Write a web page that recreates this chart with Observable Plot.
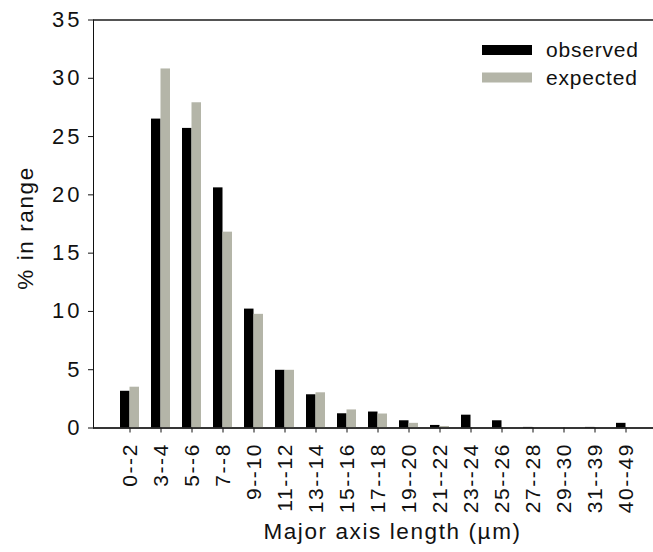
<!DOCTYPE html>
<html>
<head>
<meta charset="utf-8">
<script src="https://cdn.jsdelivr.net/npm/d3@7"></script>
<script src="https://cdn.jsdelivr.net/npm/@observablehq/plot@0.6"></script>
<style>
  html, body { margin: 0; padding: 0; background: #fff; }
</style>
</head>
<body>
<div id="chart"></div>
<script>
const categories = ["0--2","3--4","5--6","7--8","9--10","11--12","13--14","15--16","17--18","19--20","21--22","23--24","25--26","27--28","29--30","31--39","40--49"];
const observed = [3.15, 26.5, 25.7, 20.6, 10.2, 4.95, 2.85, 1.22, 1.37, 0.62, 0.22, 1.1, 0.62, 0.05, 0, 0.05, 0.4];
const expected = [3.5, 30.8, 27.9, 16.8, 9.75, 4.95, 3.02, 1.55, 1.2, 0.4, 0.13, 0, 0, 0, 0, 0, 0];
const seriesNames = ["observed", "expected"];
const seriesColors = ["#000000", "#b4b5a8"];
const yTicks = [0, 5, 10, 15, 20, 25, 30, 35];
const xTitle = "Major axis length (µm)";
const yTitle = "% in range";

const rows = categories.map((c, i) => ({cat: c, observed: observed[i], expected: expected[i]}));

const W = 653, H = 552;
const mL = 93, mT = 19.5, mB = 124.5, mR = 0;
const half = 9.5;

const plot = Plot.plot({
  width: W,
  height: H,
  marginLeft: mL,
  marginRight: mR,
  marginTop: mT,
  marginBottom: mB,
  style: {fontFamily: "'Liberation Sans', Arial, sans-serif", fontSize: "21px", letterSpacing: "1.6px", color: "#111", background: "#fff"},
  x: {type: "band", domain: categories, range: [93, 661.2], paddingInner: 0.4, paddingOuter: 0.69,
      tickSize: 5, tickPadding: 10, tickRotate: -90, label: null, line: true},
  y: {domain: [0, 35], ticks: yTicks, tickSize: 5, tickPadding: 6, label: null, line: true},
  marks: [
    Plot.barY(rows, {x: "cat", y: "observed", fill: seriesColors[0], insetRight: half}),
    Plot.barY(rows, {x: "cat", y: "expected", fill: seriesColors[1], insetLeft: half}),
    Plot.ruleY([0], {stroke: "#1a1a1a", strokeWidth: 1.5}),
    Plot.ruleY([yTicks[yTicks.length - 1]], {stroke: "#1a1a1a", strokeWidth: 1.5}),
    Plot.text([xTitle], {frameAnchor: "bottom", textAnchor: "middle", lineAnchor: "bottom", dx: 19, dy: 111, fontSize: 22.5, fill: "#111"}),
    Plot.text([yTitle], {frameAnchor: "left", textAnchor: "middle", lineAnchor: "middle", dx: -68, dy: 4, rotate: -90, fontSize: 22.5, fill: "#111"})
  ]
});

// Wider y tick labels, as in the reference
d3.select(plot).selectAll('[aria-label="y-axis tick label"] text')
  .style("font-size", "22px").style("letter-spacing", "3px");

// Legend inside the plot area
const svg = d3.select(plot);
const lg = svg.append("g").attr("text-anchor", "start");
const legendY = [50, 77.5];
seriesNames.forEach((name, i) => {
  lg.append("rect").attr("x", 482).attr("y", legendY[i] - 5).attr("width", 50).attr("height", 10).attr("fill", seriesColors[i]);
  lg.append("text").attr("x", 546).attr("y", legendY[i] + 7).attr("font-size", 21).attr("letter-spacing", "0.8px").attr("fill", "#111").text(name);
});

document.getElementById("chart").appendChild(plot);
</script>
</body>
</html>
